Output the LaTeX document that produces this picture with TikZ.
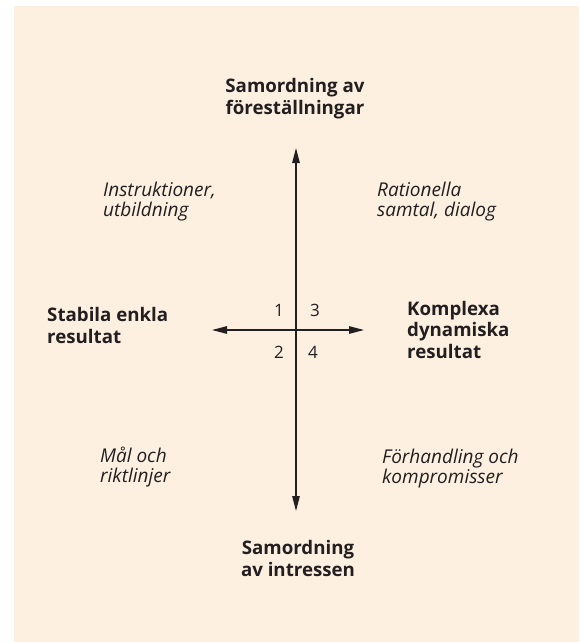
\documentclass[tikz,border=0pt]{standalone}
\usepackage{fontspec}
\setmainfont{Open Sans}
\usetikzlibrary{arrows.meta}
\definecolor{bg}{HTML}{FDF0E1}
\definecolor{ink}{HTML}{231F20}
\begin{document}
\begin{tikzpicture}[x=1pt,y=-1pt,
  boldlbl/.style={font=\bfseries\fontsize{18.7}{21.5}\selectfont, text=ink, inner sep=0pt, anchor=base},
  itlbl/.style={font=\itshape\fontsize{19}{19.5}\selectfont, text=ink, inner sep=0pt, align=left, anchor=base west},
  num/.style={font=\fontsize{17}{20}\selectfont, text=ink, inner sep=0pt, anchor=base},
  axis/.style={draw=ink, line width=1.3pt, {Triangle[length=15pt,width=7.5pt]}-{Triangle[length=15pt,width=7.5pt]}}]
\useasboundingbox (0,0) rectangle (579,642);
\fill[white] (0,0) rectangle (579,642);
\fill[bg] (14,6) rectangle (579,642);
% axes
\coordinate (N) at (296,148);
\coordinate (S) at (296,511);
\coordinate (W) at (212,330);
\coordinate (E) at (364,330);
\draw[axis] (S) -- (N);
\draw[axis] (W) -- (E);
% numbers
\node[num] (n1) at (279,316) {1};
\node[num] (n3) at (315,316) {3};
\node[num] (n2) at (279,358) {2};
\node[num] (n4) at (313,358) {4};
% bold labels (anchor base = last line)
\node[boldlbl, align=center] (top) at (295,114) {Samordning av\\föreställningar};
\node[boldlbl, align=center] (bot) at (298,576) {Samordning\\av intressen};
\node[boldlbl, align=left, anchor=base west] (left) at (47,343) {Stabila enkla\\resultat};
\node[boldlbl, align=left, anchor=base west] (right) at (407,358) {Komplexa\\dynamiska\\resultat};
% italic labels
\node[itlbl] (q1) at (103,216) {Instruktioner,\\utbildning};
\node[itlbl] (q3) at (377,216) {Rationella\\samtal, dialog};
\node[itlbl] (q2) at (100,482) {Mål och\\riktlinjer};
\node[itlbl] (q4) at (382,483) {Förhandling och\\kompromisser};
\end{tikzpicture}
\end{document}
